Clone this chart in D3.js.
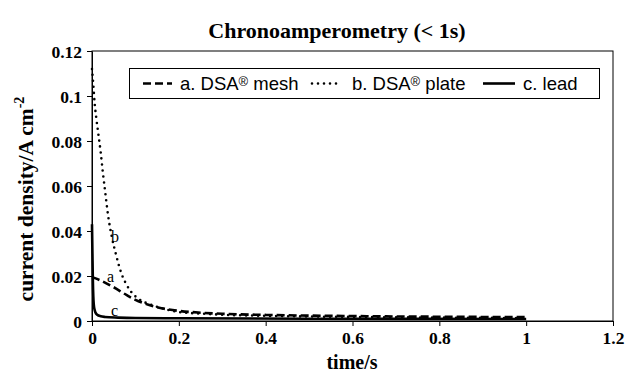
<!DOCTYPE html>
<html><head><meta charset="utf-8">
<script src="https://cdn.jsdelivr.net/npm/d3@7"></script>
<style>body{margin:0;background:#fff}svg{display:block}</style>
</head><body>
<script>
// ---- data ----
const xTicks = [0, 0.2, 0.4, 0.6, 0.8, 1, 1.2];
const yTicks = [0, 0.02, 0.04, 0.06, 0.08, 0.1, 0.12];
const seriesNames = ["a. DSA\u00AE mesh", "b. DSA\u00AE plate", "c. lead"];
const curveLabels = ["a", "b", "c"];
const timeA = [0, 0.02, 0.05, 0.08, 0.1, 0.13, 0.16, 0.2, 0.25, 0.3, 0.4, 0.5, 0.6, 0.7, 0.8, 0.9, 1.0];
const meshA = [0.0195, 0.018, 0.015, 0.0115, 0.0094, 0.0072, 0.0057, 0.0045, 0.0037, 0.0032, 0.0027, 0.0024, 0.0022, 0.0020, 0.0019, 0.0018, 0.0017];
const timeB = [0, 0.003, 0.006, 0.01, 0.014, 0.02, 0.025, 0.03, 0.037, 0.045, 0.056, 0.068, 0.08, 0.09, 0.11, 0.137, 0.17, 0.2, 0.25, 0.3, 0.4, 0.5, 0.6, 0.8, 1.0];
const plateB = [0.112, 0.105, 0.097, 0.09, 0.084, 0.075, 0.066, 0.058, 0.047, 0.038, 0.029, 0.021, 0.016, 0.013, 0.0095, 0.0072, 0.0052, 0.004, 0.0033, 0.0028, 0.0023, 0.002, 0.0018, 0.0015, 0.0013];
const timeC = [0, 0.001, 0.002, 0.003, 0.004, 0.006, 0.008, 0.012, 0.02, 0.03, 0.06, 0.1, 0.2, 0.5, 1.0];
const leadC = [0.043, 0.03, 0.018, 0.011, 0.0075, 0.005, 0.0038, 0.0028, 0.0021, 0.0018, 0.0015, 0.0013, 0.0012, 0.001, 0.0009];
const labelPos = [[0.043, 0.0172], [0.053, 0.035], [0.052, 0.0021]];

// ---- layout ----
const W = 625, H = 375;
const m = {left: 92, right: 12, top: 51, bottom: 54};
const svg = d3.select("body").append("svg").attr("width", W).attr("height", H);
const x = d3.scaleLinear().domain([0, 1.2]).range([m.left, W - m.right]);
const y = d3.scaleLinear().domain([0, 0.12]).range([H - m.bottom, m.top]);
const serif = "'Liberation Serif','Times New Roman',serif";
const sans = "'Liberation Sans',Arial,sans-serif";

// frame
svg.append("rect").attr("x", x(0)).attr("y", y(0.12)).attr("width", x(1.2) - x(0)).attr("height", y(0) - y(0.12))
  .attr("fill", "none").attr("stroke", "#000").attr("stroke-width", 1);

// axes
const xAxis = svg.append("g").attr("transform", `translate(0,${y(0)})`)
  .call(d3.axisBottom(x).tickValues(xTicks).tickSize(5).tickSizeOuter(0).tickPadding(6).tickFormat(d => d3.format("~g")(d)));
const yAxis = svg.append("g").attr("transform", `translate(${x(0)},0)`)
  .call(d3.axisLeft(y).tickValues(yTicks).tickSize(5).tickSizeOuter(0).tickPadding(5).tickFormat(d => d3.format("~g")(d)));
[xAxis, yAxis].forEach(g => {
  g.selectAll("text").attr("font-family", serif).attr("font-weight", "bold").attr("font-size", 17.5).attr("fill", "#000");
  g.selectAll("line,path").attr("stroke", "#000");
});
yAxis.selectAll("text").attr("dy", "0.35em");

// lines
const line = d3.line().x(d => x(d[0])).y(d => y(d[1])).curve(d3.curveMonotoneX);
const dataA = timeA.map((t, i) => [t, meshA[i]]);
const dataB = timeB.map((t, i) => [t, plateB[i]]);
const dataC = timeC.map((t, i) => [t, leadC[i]]);
const styles = [
  {dash: "8,4", cap: "butt", w: 2.6},
  {dash: "0,6", cap: "round", w: 2.6},
  {dash: null, cap: "butt", w: 2.6}
];
[dataA, dataB, dataC].forEach((d, i) => {
  svg.append("path").datum(d).attr("d", line).attr("fill", "none").attr("stroke", "#000")
    .attr("stroke-width", styles[i].w).attr("stroke-dasharray", styles[i].dash).attr("stroke-linecap", styles[i].cap);
});

// curve labels
curveLabels.forEach((l, i) => {
  svg.append("text").attr("x", x(labelPos[i][0])).attr("y", y(labelPos[i][1])).attr("text-anchor", "middle")
    .attr("font-family", serif).attr("font-size", 16).attr("fill", "#000").text(l);
});

// legend
const lg = svg.append("g");
lg.append("rect").attr("x", 129.5).attr("y", 68.5).attr("width", 470).attr("height", 30).attr("fill", "#fff").attr("stroke", "#000");
const legX = [[143, 172, 180], [312, 340, 352], [483, 515, 523]];
seriesNames.forEach((n, i) => {
  lg.append("line").attr("x1", legX[i][0]).attr("x2", legX[i][1]).attr("y1", 83.5).attr("y2", 83.5)
    .attr("stroke", "#000").attr("stroke-width", styles[i].w).attr("stroke-dasharray", styles[i].dash).attr("stroke-linecap", styles[i].cap);
  const parts = n.split("\u00AE");
  const t = lg.append("text").attr("x", legX[i][2]).attr("y", 90).attr("font-family", sans).attr("font-size", 18.5).attr("fill", "#000");
  if (parts.length > 1) {
    t.append("tspan").text(parts[0]);
    t.append("tspan").attr("font-size", 13).attr("dy", -4).text("\u00AE");
    t.append("tspan").attr("dy", 4).text(parts[1]);
  } else t.text(n);
});

// titles
svg.append("text").attr("x", 337).attr("y", 38).attr("text-anchor", "middle").attr("font-family", serif)
  .attr("font-weight", "bold").attr("font-size", 22).attr("fill", "#000").text("Chronoamperometry (< 1s)");
svg.append("text").attr("x", 352).attr("y", 369).attr("text-anchor", "middle").attr("font-family", serif)
  .attr("font-weight", "bold").attr("font-size", 20).attr("fill", "#000").text("time/s");
const yt = svg.append("text").attr("transform", "translate(33,199) rotate(-90)").attr("text-anchor", "middle")
  .attr("font-family", serif).attr("font-weight", "bold").attr("font-size", 21.5).attr("fill", "#000");
yt.append("tspan").text("current density/A cm");
yt.append("tspan").attr("font-size", 14).attr("dy", -9).text("-2");
</script>
</body></html>
